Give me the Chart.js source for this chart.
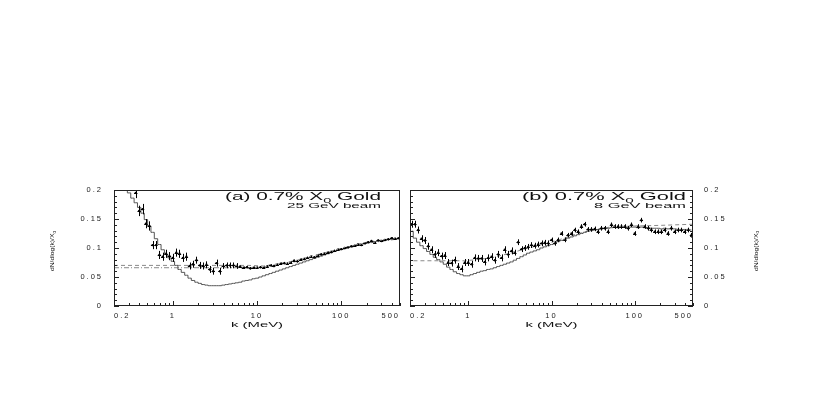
<!DOCTYPE html>
<html>
<head>
<meta charset="utf-8">
<script src="https://cdn.jsdelivr.net/npm/chart.js@4.4.1/dist/chart.umd.min.js"></script>
<style>
  html, body { margin:0; padding:0; background:#fff; }
  #wrap { position:relative; width:830px; height:415px; overflow:hidden; background:#fff; }
  #wrap canvas { position:absolute; top:0; }
  #chart-a { left:0; }
  #chart-b { left:405px; }
</style>
</head>
<body>
<div id="wrap">
  <canvas id="chart-a" width="405" height="415"></canvas>
  <canvas id="chart-b" width="425" height="415"></canvas>
</div>
<script>
// ── Data (k in MeV, bin centres, 25 bins per decade) ─────────────────────────
const kBins = [
  0.209,0.229,0.251,0.275,0.302,0.331,0.363,0.398,0.437,0.479,0.525,0.575,0.631,0.692,0.759,0.832,0.912,
  1.00,1.10,1.20,1.32,1.45,1.58,1.74,1.91,2.09,2.29,2.51,2.75,3.02,3.31,3.63,3.98,4.37,4.79,5.25,5.75,6.31,6.92,7.59,8.32,9.12,
  10.0,11.0,12.0,13.2,14.5,15.8,17.4,19.1,20.9,22.9,25.1,27.5,30.2,33.1,36.3,39.8,43.7,47.9,52.5,57.5,63.1,69.2,75.9,83.2,91.2,
  100,110,120,132,145,158,174,191,209,229,251,275,302,331,363,398,437,479
];
const xTicks = [0.2, 1, 10, 100, 500];
const yTicks = [0, 0.05, 0.1, 0.15, 0.2];

// (a) 25 GeV beam
const dataA = [
  0.300,0.280,0.260,0.240,0.225,0.210,0.195,0.164,0.167,0.142,0.138,0.105,0.105,0.088,0.085,0.090,0.086,
  0.083,0.092,0.090,0.083,0.085,0.069,0.072,0.079,0.070,0.069,0.071,0.063,0.060,0.074,0.060,0.069,0.070,0.070,0.070,0.069,0.068,0.066,0.067,0.065,0.066,
  0.066,0.067,0.066,0.068,0.070,0.069,0.071,0.073,0.074,0.073,0.075,0.078,0.077,0.080,0.081,0.083,0.085,0.084,0.087,0.089,0.090,0.092,0.093,0.095,0.097,
  0.098,0.100,0.101,0.103,0.104,0.106,0.105,0.108,0.110,0.112,0.109,0.113,0.112,0.114,0.115,0.117,0.116,0.117
];
const errA = [
  0.009,0.009,0.009,0.009,0.009,0.009,0.009,0.009,0.009,0.008,0.008,0.007,0.007,0.007,0.007,0.007,0.007,
  0.007,0.007,0.007,0.007,0.007,0.006,0.006,0.006,0.006,0.006,0.006,0.006,0.006,0.006,0.006,0.005,0.005,0.005,0.005,0.005,0.002,0.002,0.002,0.002,0.002,
  0.002,0.002,0.002,0.002,0.002,0.002,0.002,0.002,0.002,0.002,0.002,0.002,0.002,0.002,0.002,0.002,0.002,0.002,0.002,0.002,0.002,0.002,0.002,0.002,0.002,
  0.0015,0.0015,0.0015,0.0015,0.0015,0.0015,0.0015,0.0015,0.0015,0.0015,0.0015,0.0015,0.0015,0.0015,0.0015,0.0015,0.0015,0.0015
];
const simA = [
  0.250,0.235,0.220,0.205,0.195,0.186,0.178,0.170,0.160,0.149,0.138,0.127,0.116,0.106,0.097,0.089,0.083,
  0.077,0.070,0.063,0.058,0.053,0.048,0.044,0.041,0.039,0.037,0.036,0.035,0.035,0.035,0.035,0.036,0.037,0.038,0.039,0.040,0.041,0.043,0.044,0.045,0.047,
  0.048,0.050,0.052,0.054,0.056,0.058,0.060,0.062,0.064,0.066,0.068,0.070,0.072,0.074,0.076,0.078,0.080,0.082,0.084,0.086,0.088,0.090,0.092,0.094,0.096,
  0.098,0.099,0.101,0.102,0.104,0.105,0.107,0.108,0.109,0.110,0.111,0.112,0.113,0.114,0.115,0.115,0.116,0.116
];
const dashKA = [0.2, 8, 12, 20, 30, 50, 100, 200, 500];
const dashA  = [0.070, 0.070, 0.069, 0.074, 0.079, 0.088, 0.099, 0.110, 0.118];
const dotA   = [0.066, 0.066, 0.067, 0.072, 0.077, 0.086, 0.097, 0.108, 0.116];

// (b) 8 GeV beam
const dataB = [
  0.141,0.141,0.131,0.116,0.113,0.103,0.097,0.089,0.092,0.086,0.087,0.075,0.074,0.079,0.068,0.064,0.075,
  0.075,0.072,0.083,0.082,0.082,0.076,0.083,0.085,0.079,0.089,0.083,0.097,0.089,0.095,0.092,0.110,0.098,0.100,0.102,0.105,0.104,0.106,0.108,0.109,0.108,
  0.114,0.108,0.114,0.125,0.114,0.122,0.125,0.131,0.128,0.137,0.141,0.132,0.132,0.133,0.128,0.134,0.134,0.128,0.140,0.137,0.137,0.137,0.137,0.134,0.140,
  0.125,0.137,0.148,0.137,0.134,0.131,0.128,0.128,0.128,0.131,0.125,0.134,0.128,0.131,0.131,0.128,0.131,0.122
];
const errB = [
  0.006,0.006,0.006,0.006,0.006,0.006,0.006,0.006,0.006,0.006,0.006,0.006,0.006,0.006,0.006,0.006,0.006,
  0.006,0.006,0.006,0.006,0.006,0.006,0.006,0.006,0.006,0.006,0.006,0.006,0.006,0.006,0.005,0.005,0.005,0.005,0.005,0.005,0.005,0.005,0.005,0.005,0.005,
  0.004,0.004,0.004,0.004,0.004,0.004,0.004,0.004,0.004,0.004,0.004,0.004,0.004,0.004,0.004,0.004,0.004,0.004,0.004,0.004,0.004,0.004,0.004,0.004,0.004,
  0.004,0.004,0.004,0.004,0.004,0.004,0.004,0.004,0.004,0.004,0.004,0.004,0.004,0.004,0.004,0.004,0.004,0.004
];
const simB = [
  0.129,0.117,0.110,0.104,0.099,0.094,0.089,0.084,0.080,0.076,0.072,0.067,0.063,0.059,0.056,0.054,0.052,
  0.052,0.054,0.056,0.058,0.060,0.061,0.063,0.064,0.066,0.068,0.070,0.072,0.074,0.076,0.079,0.082,0.085,0.088,0.091,0.093,0.095,0.097,0.100,0.102,0.104,
  0.106,0.108,0.111,0.113,0.115,0.117,0.119,0.121,0.123,0.125,0.127,0.129,0.130,0.131,0.132,0.133,0.134,0.134,0.135,0.136,0.135,0.136,0.136,0.135,0.136,
  0.136,0.135,0.136,0.135,0.135,0.134,0.134,0.134,0.133,0.134,0.133,0.133,0.133,0.132,0.132,0.132,0.132,0.131
];
const dashKB = [0.22, 0.9, 1.5, 2, 3, 5, 10, 20, 30, 50, 100, 200, 500];
const dashB  = [0.078, 0.078, 0.081, 0.084, 0.090, 0.099, 0.110, 0.124, 0.131, 0.136, 0.138, 0.139, 0.141];

// ── Panel setup ───────────────────────────────────────────────────────────────
const FONT = '"Liberation Sans", Arial, Helvetica, sans-serif';
const BIN_HALF = Math.pow(10, 0.02);

const panels = [
  {
    id: 'chart-a', tag: '(a) 0.7% X', beam: '25 GeV beam',
    data: dataA, err: errA, sim: simA,
    dashes: [
      { k: dashKA, v: dashA, dash: [4, 3] },
      { k: dashKA, v: dotA,  dash: [5, 2, 1, 2] }
    ],
    yPos: 'left', rightTicks: false,
    pad: { left: 46, right: 3, top: 190, bottom: 85 },
    titleR: 19, titleW: 156, subW: 94
  },
  {
    id: 'chart-b', tag: '(b) 0.7% X', beam: '8 GeV beam',
    data: dataB, err: errB, sim: simB,
    dashes: [
      { k: dashKB, v: dashB, dash: [4, 3] }
    ],
    yPos: 'right', rightTicks: true,
    pad: { left: 2, right: 69, top: 190, bottom: 85 },
    titleR: 7, titleW: 164, subW: 92
  }
];

// draws a run of text squeezed/stretched horizontally to a target width
function stretchText(ctx, segs, x, y, width, size, align) {
  ctx.save();
  ctx.letterSpacing = '0px';
  const f = s => `${s}px ${FONT}`;
  let nat = 0;
  segs.forEach(s => { ctx.font = f(s.sub ? size * 0.7 : size); nat += ctx.measureText(s.t).width; });
  const sx = width / nat;
  const x0 = align === 'right' ? x - width : align === 'center' ? x - width / 2 : x;
  ctx.translate(x0, y);
  ctx.scale(sx, 1);
  ctx.fillStyle = '#111';
  ctx.textAlign = 'left';
  ctx.textBaseline = 'alphabetic';
  let cx = 0;
  segs.forEach(s => {
    ctx.font = f(s.sub ? size * 0.7 : size);
    ctx.fillText(s.t, cx, s.sub ? size * 0.3 : 0);
    cx += ctx.measureText(s.t).width;
  });
  ctx.restore();
}

function panelPlugin(cfg) {
  return {
    id: 'panelDeco',
    beforeDraw(chart) {
      chart.ctx.letterSpacing = '2px';
    },
    afterDatasetsDraw(chart) {
      const { ctx, chartArea: a, scales: { x, y } } = chart;
      // error bars
      ctx.save();
      ctx.beginPath();
      ctx.rect(a.left, a.top, a.right - a.left, a.bottom - a.top);
      ctx.clip();
      ctx.strokeStyle = '#000';
      ctx.lineWidth = 1;
      ctx.beginPath();
      kBins.forEach((k, i) => {
        const v = cfg.data[i], e = cfg.err[i];
        const px = Math.round(x.getPixelForValue(k)) + 0.5;
        const py = Math.round(y.getPixelForValue(v)) + 0.5;
        ctx.moveTo(px, y.getPixelForValue(v - e));
        ctx.lineTo(px, y.getPixelForValue(v + e));
        ctx.moveTo(x.getPixelForValue(k / BIN_HALF), py);
        ctx.lineTo(x.getPixelForValue(k * BIN_HALF), py);
      });
      ctx.stroke();
      ctx.restore();
    },
    afterDraw(chart) {
      const { ctx, chartArea: a, scales: { x, y } } = chart;
      ctx.save();
      // frame
      ctx.strokeStyle = '#222';
      ctx.lineWidth = 1;
      ctx.strokeRect(a.left + 0.5, a.top + 0.5, a.right - a.left - 1, a.bottom - a.top - 1);
      // inward ticks
      ctx.beginPath();
      for (let i = 0; i <= 20; i++) {
        const py = Math.round(y.getPixelForValue(i / 100)) + 0.5;
        const len = i % 5 === 0 ? 5 : 3;
        ctx.moveTo(a.left, py); ctx.lineTo(a.left + len, py);
        if (cfg.rightTicks) { ctx.moveTo(a.right, py); ctx.lineTo(a.right - len, py); }
      }
      [0.1, 1, 10, 100].forEach(dec => {
        for (let m = 1; m <= 9; m++) {
          const k = dec * m;
          if (k < 0.199 || k > 501) continue;
          const px = Math.round(x.getPixelForValue(k)) + 0.5;
          const len = m === 1 ? 5 : 3;
          ctx.moveTo(px, a.bottom); ctx.lineTo(px, a.bottom - len);
        }
      });
      ctx.stroke();
      ctx.restore();

      // labels
      const tr = a.right - cfg.titleR;
      stretchText(ctx, [{ t: cfg.tag }, { t: '0', sub: true }, { t: ' Gold' }], tr, 200, cfg.titleW, 11.5, 'right');
      stretchText(ctx, [{ t: cfg.beam }], tr, 207.5, cfg.subW, 6.5, 'right');
      stretchText(ctx, [{ t: 'k (MeV)' }], (a.left + a.right) / 2, 326.5, 52, 7, 'center');

      const ty = cfg.yPos === 'left' ? a.left - 62 : a.right + 62.5;
      ctx.save();
      ctx.translate(ty, 251);
      ctx.rotate(-Math.PI / 2);
      stretchText(ctx, [{ t: 'dN/dlog(k)/X' }, { t: '0', sub: true }], 0, 2, 40, 5.5, 'center');
      ctx.restore();
    }
  };
}

function pts(vals) {
  return kBins.map((k, i) => ({ x: k, y: vals[i] }));
}

function buildPanel(cfg) {
  const ctx = document.getElementById(cfg.id).getContext('2d');
  const tickFont = { family: FONT, size: 7.5 };
  return new Chart(ctx, {
    type: 'line',
    data: {
      datasets: [
        { data: pts(cfg.sim), borderColor: '#555', borderWidth: 1, stepped: 'middle',
          pointRadius: 0, fill: false, clip: 0 },
        ...cfg.dashes.map(d => ({
          data: d.k.map((k, i) => ({ x: k, y: d.v[i] })),
          borderColor: '#8a8a8a', borderWidth: 1, borderDash: d.dash,
          pointRadius: 0, fill: false, clip: 0
        })),
        { data: pts(cfg.data), showLine: false, pointRadius: 1.2, pointBorderWidth: 0,
          pointBackgroundColor: '#000', clip: 0 }
      ]
    },
    options: {
      responsive: false,
      animation: false,
      events: [],
      layout: { padding: cfg.pad },
      plugins: { legend: { display: false }, tooltip: { enabled: false } },
      scales: {
        x: {
          type: 'logarithmic', min: 0.2, max: 500,
          afterBuildTicks: s => { s.ticks = xTicks.map(v => ({ value: v })); },
          afterFit: s => { s.height = 24; },
          grid: { display: false, drawTicks: false },
          border: { display: false },
          ticks: { align: 'inner', padding: 5, maxRotation: 0, autoSkip: false,
                   color: '#222', font: tickFont, callback: v => String(v) }
        },
        y: {
          position: cfg.yPos, min: 0, max: 0.2,
          afterBuildTicks: s => { s.ticks = yTicks.map(v => ({ value: v })); },
          afterFit: s => { s.width = 68; },
          grid: { display: false, drawTicks: false },
          border: { display: false },
          ticks: { padding: 11, color: '#222', font: tickFont, callback: v => String(v) }
        }
      }
    },
    plugins: [panelPlugin(cfg)]
  });
}

panels.forEach(buildPanel);
</script>
</body>
</html>
